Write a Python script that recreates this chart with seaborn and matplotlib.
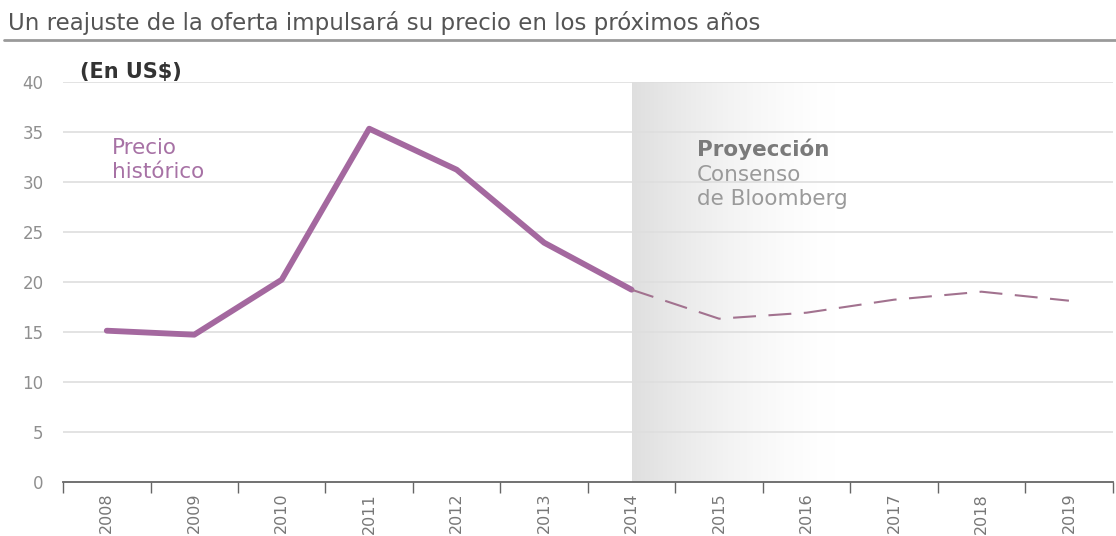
import numpy as np
import pandas as pd
import matplotlib
matplotlib.use("Agg")
import matplotlib.pyplot as plt
import seaborn as sns

years = ["2008", "2009", "2010", "2011", "2012", "2013", "2014",
         "2015", "2016", "2017", "2018", "2019"]
hist_years = ["2008", "2009", "2010", "2011", "2012", "2013", "2014"]
hist_values = [15.1, 14.7, 20.2, 35.3, 31.2, 23.9, 19.2]
proj_years = ["2014", "2015", "2016", "2017", "2018", "2019"]
proj_values = [19.2, 16.3, 16.9, 18.2, 19.0, 18.1]
y_ticks = [0, 5, 10, 15, 20, 25, 30, 35, 40]

sns.set_theme(style="white")
plt.rcParams['font.family'] = ['DejaVu Sans']

fig = plt.figure(figsize=(11.16, 5.36), dpi=100)
ax = fig.add_axes([0.0565, 0.1013, 0.9405, 0.7463])

pos = {y: i for i, y in enumerate(years)}
df_h = pd.DataFrame({"x": [pos[y] for y in hist_years], "v": hist_values})
df_p = pd.DataFrame({"x": [pos[y] for y in proj_years], "v": proj_values})

# gradient shading for projection area
grad = np.zeros((2, 256, 4))
grad[..., :3] = 0.87
alpha = 0.95 * np.linspace(1.0, 0.0, 256) ** 1.6
grad[..., 3] = alpha
ax.imshow(grad, extent=[pos["2014"], pos["2014"] + 2.4, 0, 40],
          aspect="auto", zorder=0.5, interpolation="bilinear")

for yv in y_ticks[1:]:
    ax.axhline(yv, color="#dedede", lw=1.2, zorder=1)

sns.lineplot(data=df_h, x="x", y="v", ax=ax, color="#a4689f", lw=4.2,
             solid_capstyle="round", solid_joinstyle="round", zorder=3)
sns.lineplot(data=df_p, x="x", y="v", ax=ax, color="#a2728f", lw=1.5, zorder=3)
ax.lines[-1].set_linestyle((0, (11, 6)))

ax.set_xlim(-0.5, len(years) - 0.5)
ax.set_ylim(0, 40)
ax.set_xlabel("")
ax.set_ylabel("")

ax.set_yticks(y_ticks)
ax.set_yticklabels([str(v) for v in y_ticks], color="#8f8f8f", fontsize=12)
ax.tick_params(axis="y", length=0, pad=14)

ax.set_xticks(range(len(years)))
ax.set_xticklabels(years, rotation=90, color="#777777", fontsize=11.5)
ax.set_xticks(np.arange(-0.5, len(years), 1.0), minor=True)
ax.tick_params(axis="x", which="major", length=0, pad=8)
ax.tick_params(axis="x", which="minor", length=8, width=1.0, color="#666666",
               direction="out", bottom=True)

for s in ["top", "right", "left"]:
    ax.spines[s].set_visible(False)
ax.spines["bottom"].set_color("#666666")
ax.spines["bottom"].set_linewidth(1.3)
ax.spines["bottom"].set_zorder(4)

# title and rule
fig.text(0.007, 0.957, "Un reajuste de la oferta impulsará su precio en los próximos años",
         fontsize=16.5, color="#555555", va="center", ha="left")
fig.add_artist(plt.Line2D([0.004, 1.0], [0.925, 0.925], transform=fig.transFigure,
                          color="#9a9a9a", lw=2.0))

fig.text(0.072, 0.866, "(En US$)", fontsize=15, fontweight="bold",
         color="#333333", va="center", ha="left")

ax.text(0.06, 34.4, "Precio\nhistórico", fontsize=15.5,
        color="#a772a5", va="top", ha="left", linespacing=1.3)

ax.text(6.75, 34.3, "Proyección", fontsize=15.5, fontweight="bold",
        color="#7a7a7a", va="top", ha="left")
ax.text(6.75, 31.7, "Consenso\nde Bloomberg", fontsize=15.5,
        color="#9a9a9a", va="top", ha="left", linespacing=1.3)

fig.savefig("out.png", dpi=100, facecolor="white")
